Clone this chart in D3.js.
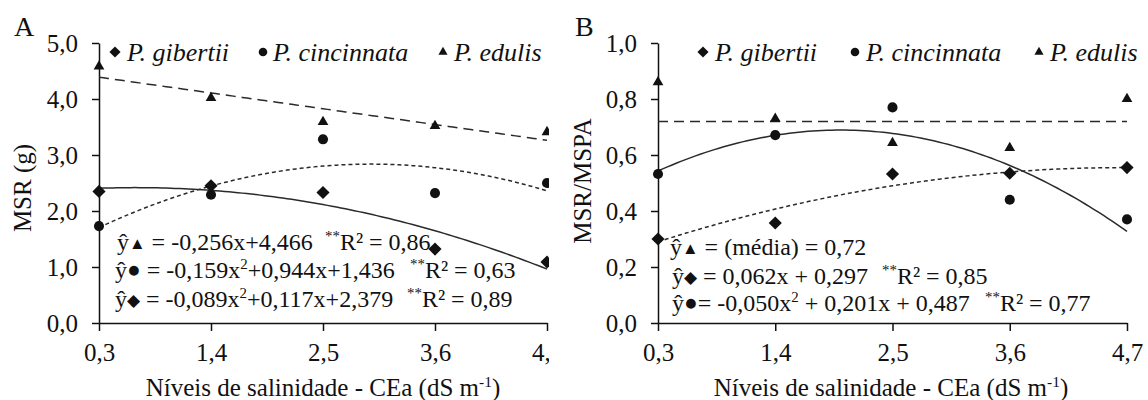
<!DOCTYPE html>
<html>
<head>
<meta charset="utf-8">
<script src="https://cdn.jsdelivr.net/npm/d3@7"></script>
</head>
<body style="margin:0;background:#fff">
<div id="figure"></div>
<script>
// Salinity levels of the irrigation water (dS m-1)
const salinity = [0.3, 1.4, 2.5, 3.6, 4.7];
const salinityLabels = ["0,3", "1,4", "2,5", "3,6", "4,7"];

// Panel A: root dry mass, MSR (g)
const msrGibertii    = [2.35, 2.45, 2.33, 1.32, 1.09];
const msrCincinnata  = [1.73, 2.29, 3.28, 2.32, 2.50];
const msrEdulis      = [4.58, 4.02, 3.59, 3.52, 3.41];
const msrTicks       = [0, 1, 2, 3, 4, 5];

// Panel B: root / shoot dry mass ratio, MSR/MSPA
const ratioGibertii   = [0.30, 0.357, 0.532, 0.535, 0.555];
const ratioCincinnata = [0.532, 0.671, 0.77, 0.44, 0.37];
const ratioEdulis     = [0.86, 0.73, 0.643, 0.625, 0.80];
const ratioTicks      = [0, 0.2, 0.4, 0.6, 0.8, 1.0];

// Fitted curves, y = a x^2 + b x + c  ->  [a, b, c]
const fitMsrEdulis       = [0, -0.256, 4.466];
const fitMsrCincinnata   = [-0.159, 0.944, 1.436];
const fitMsrGibertii     = [-0.089, 0.117, 2.379];
const fitRatioEdulis     = [0, 0, 0.72];
const fitRatioGibertii   = [-0.01395, 0.12995, 0.2523];
const fitRatioCincinnata = [-0.050, 0.201, 0.487];

const species = ["P. gibertii", "P. cincinnata", "P. edulis"];

const fam = "Times New Roman";
const svg = d3.select("#figure").append("svg")
  .attr("width", 1148).attr("height", 400)
  .style("display", "block");
const ink = "#111";
const lineInk = "#2a2a2a";
const comma = v => d3.format(".1f")(v).replace(".", ",");

function txt(g, size) {
  return g.append("text")
    .attr("font-family", fam).style("font-family", `"${fam}"`)
    .attr("font-size", size)
    .attr("fill", ink);
}

// marker shapes: diamond (rotated square), circle, triangle
function markerPath(kind, scale = 1) {
  if (kind === "diamond") return d3.symbol(d3.symbolSquare, 86 * scale * scale)();
  if (kind === "circle")  return d3.symbol(d3.symbolCircle, 80 * scale * scale)();
  return d3.symbol(d3.symbolTriangle, 50 * scale * scale)();
}
function drawMarker(g, kind, x, y, scale = 1) {
  g.append("path")
    .attr("d", markerPath(kind, scale))
    .attr("transform", `translate(${x},${y})` + (kind === "diamond" ? " rotate(45)" : ""))
    .attr("fill", ink);
}

// rich text: parts = [{t, sup, after, sym, symEnd}]
function richText(g, x, y, parts, size) {
  const t = txt(g, size).attr("x", x).attr("y", y);
  parts.forEach(p => {
    const s = t.append("tspan").text(p.t);
    if (p.sup) s.attr("dy", -size * 0.38).attr("font-size", size * 0.62);
    if (p.after) s.attr("dy", size * 0.38);
    if (p.sym) s.attr("font-size", size * (p.t === "●" ? 0.95 : 0.7)).attr("dy", -1);
    if (p.symEnd) s.attr("dy", 1);
  });
  return t;
}
function r2(g, x, y, value, size) {
  return richText(g, x, y, [
    { t: "**", sup: true },
    { t: "R² = " + value, after: true }
  ], size);
}

function drawPanel(cfg) {
  const g = svg.append("g");
  const x = d3.scaleLinear().domain([0.3, 4.7]).range(cfg.xRange);
  const y = d3.scaleLinear().domain(cfg.yDomain).range([323, 43]);

  const clipId = "clip-" + cfg.letter;
  svg.append("clipPath").attr("id", clipId)
    .append("rect").attr("x", 0).attr("y", 0).attr("width", cfg.clipRight).attr("height", 400);
  g.attr("clip-path", `url(#${clipId})`);

  // axes
  const xAxis = d3.axisBottom(x).tickValues(salinity)
    .tickFormat((d, i) => salinityLabels[i]).tickSizeInner(8).tickSizeOuter(0).tickPadding(12);
  const yAxis = d3.axisLeft(y).tickValues(cfg.yTicks)
    .tickFormat(comma).tickSizeInner(7).tickSizeOuter(0).tickPadding(14);

  const gx = g.append("g").attr("transform", "translate(0,323)").call(xAxis);
  const gy = g.append("g").attr("transform", `translate(${cfg.xRange[0]},0)`).call(yAxis);
  [gx, gy].forEach(a => {
    a.attr("font-family", fam).attr("font-size", 25);
    a.selectAll("path, line").attr("stroke", ink).attr("stroke-width", 1.5);
    a.selectAll("text").attr("fill", ink)
      .attr("font-family", fam).style("font-family", `"${fam}"`);
  });
  gx.selectAll("text").attr("dy", "0.72em");
  gy.selectAll("text").attr("dy", "0.34em");

  // fitted curves
  const xs = d3.range(0, 101).map(i => 0.3 + i * 0.044);
  cfg.fits.forEach(f => {
    const [a, b, c] = f.coef;
    const line = d3.line().x(d => x(d)).y(d => y(a * d * d + b * d + c));
    g.append("path").datum(xs).attr("d", line)
      .attr("fill", "none").attr("stroke", lineInk).attr("stroke-width", 1.5)
      .attr("stroke-dasharray", f.dash);
  });

  // observed means
  cfg.series.forEach(s => {
    s.values.forEach((v, i) => drawMarker(g, s.marker, x(salinity[i]), y(v)));
  });

  // legend
  cfg.legend.forEach((l, i) => {
    drawMarker(g, l.marker, l.mx, 52, 0.85);
    txt(g, 26).attr("x", l.tx).attr("y", 61)
      .attr("font-style", "italic").text(species[i]);
  });

  // panel letter
  txt(g, 28).attr("x", cfg.letterX).attr("y", 36).text(cfg.letter);

  // axis titles
  txt(g, 25).attr("transform", `translate(${cfg.yTitleX},${cfg.yTitleY}) rotate(-90)`)
    .attr("text-anchor", "middle").text(cfg.yTitle);
  richText(g, cfg.xTitleX, 396, [
    { t: "Níveis de salinidade - CEa (dS m" },
    { t: "-1", sup: true },
    { t: ")", after: true }
  ], 25).attr("text-anchor", "middle");

  // equations
  cfg.equations.forEach(e => {
    richText(g, e.x, e.y, e.parts, 24);
    if (e.r2) r2(g, e.r2x, e.y, e.r2, 24);
  });
}

const yHat = s => [{ t: "ŷ" }, { t: s, sym: true }];

drawPanel({
  letter: "A", letterX: 14, clipRight: 549,
  xRange: [99, 547], yDomain: [0, 5], yTicks: msrTicks,
  yTitle: "MSR (g)", yTitleX: 31, yTitleY: 188, xTitleX: 323,
  fits: [
    { coef: fitMsrEdulis, dash: "10,6" },
    { coef: fitMsrCincinnata, dash: "4,3" },
    { coef: fitMsrGibertii, dash: null }
  ],
  series: [
    { values: msrGibertii, marker: "diamond" },
    { values: msrCincinnata, marker: "circle" },
    { values: msrEdulis, marker: "triangle" }
  ],
  legend: [
    { marker: "diamond", mx: 115, tx: 127 },
    { marker: "circle", mx: 263, tx: 273 },
    { marker: "triangle", mx: 443, tx: 454 }
  ],
  equations: [
    { x: 117, y: 250, parts: [...yHat("▲"), { t: " = -0,256x+4,466", symEnd: true }], r2: "0,86", r2x: 325 },
    { x: 115, y: 278, parts: [...yHat("●"), { t: " = -0,159x", symEnd: true }, { t: "2", sup: true }, { t: "+0,944x+1,436", after: true }], r2: "0,63", r2x: 410 },
    { x: 115, y: 307, parts: [...yHat("◆"), { t: " = -0,089x", symEnd: true }, { t: "2", sup: true }, { t: "+0,117x+2,379", after: true }], r2: "0,89", r2x: 407 }
  ]
});

drawPanel({
  letter: "B", letterX: 575, clipRight: 1148,
  xRange: [658, 1127], yDomain: [0, 1], yTicks: ratioTicks,
  yTitle: "MSR/MSPA", yTitleX: 591, yTitleY: 181, xTitleX: 891,
  fits: [
    { coef: fitRatioEdulis, dash: "10,6" },
    { coef: fitRatioGibertii, dash: "4,3" },
    { coef: fitRatioCincinnata, dash: null }
  ],
  series: [
    { values: ratioGibertii, marker: "diamond" },
    { values: ratioCincinnata, marker: "circle" },
    { values: ratioEdulis, marker: "triangle" }
  ],
  legend: [
    { marker: "diamond", mx: 703, tx: 715 },
    { marker: "circle", mx: 855, tx: 866 },
    { marker: "triangle", mx: 1039, tx: 1050 }
  ],
  equations: [
    { x: 670, y: 255, parts: [...yHat("▲"), { t: " =  (média) = 0,72", symEnd: true }] },
    { x: 672, y: 284, parts: [...yHat("◆"), { t: " = 0,062x + 0,297", symEnd: true }], r2: "0,85", r2x: 882 },
    { x: 672, y: 311, parts: [...yHat("●"), { t: "= -0,050x", symEnd: true }, { t: "2", sup: true }, { t: " + 0,201x + 0,487", after: true }], r2: "0,77", r2x: 985 }
  ]
});
</script>
</body>
</html>
